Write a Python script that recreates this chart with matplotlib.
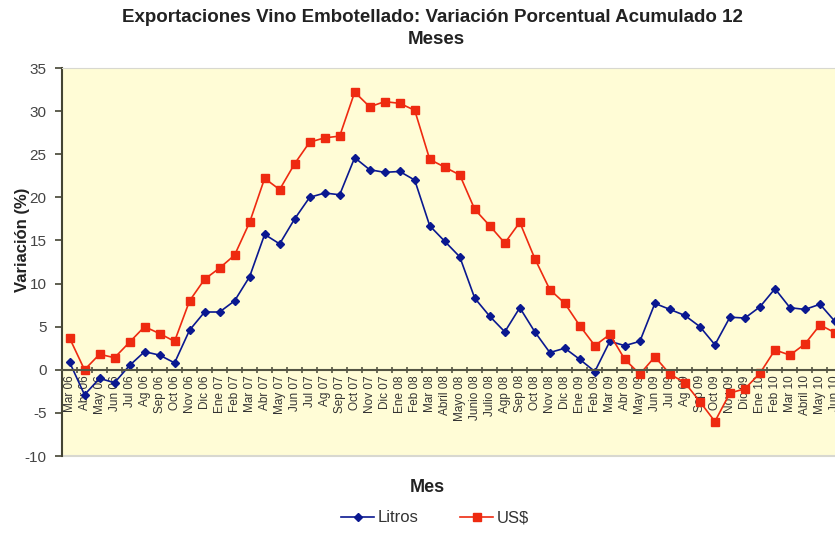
import matplotlib
matplotlib.use("Agg")
from matplotlib import pyplot as plt
from matplotlib.ticker import FixedLocator

plt.rcParams['font.family'] = ['Liberation Sans', 'DejaVu Sans']
plt.rcParams['axes.unicode_minus'] = False

meses = ['Mar 06', 'Abr 06', 'May 06', 'Jun 06', 'Jul 06', 'Ag 06', 'Sep 06', 'Oct 06',
         'Nov 06', 'Dic 06', 'Ene 07', 'Feb 07', 'Mar 07', 'Abr 07', 'May 07', 'Jun 07',
         'Jul 07', 'Ag 07', 'Sep 07', 'Oct 07', 'Nov 07', 'Dic 07', 'Ene 08', 'Feb 08',
         'Mar 08', 'Abril 08', 'Mayo 08', 'Junio 08', 'Julio 08', 'Agp 08', 'Sep 08', 'Oct 08',
         'Nov 08', 'Dic 08', 'Ene 09', 'Feb 09', 'Mar 09', 'Abr 09', 'May 09', 'Jun 09',
         'Jul 09', 'Ag 09', 'Sep 09', 'Oct 09', 'Nov 09', 'Dic 09', 'Ene 10', 'Feb 10',
         'Mar 10', 'Abril 10', 'May 10', 'Jun 10']

litros = [0.9, -2.9, -1.0, -1.5, 0.5, 2.1, 1.7, 0.8,
          4.6, 6.7, 6.7, 8.0, 10.8, 15.7, 14.6, 17.5,
          20.0, 20.5, 20.3, 24.6, 23.2, 22.9, 23.0, 22.0,
          16.7, 14.9, 13.1, 8.3, 6.2, 4.4, 7.2, 4.4,
          2.0, 2.5, 1.2, -0.2, 3.3, 2.8, 3.3, 7.7,
          7.0, 6.3, 5.0, 2.9, 6.1, 6.0, 7.3, 9.4,
          7.2, 7.0, 7.6, 5.6]

usd = [3.7, 0.0, 1.8, 1.4, 3.2, 5.0, 4.2, 3.3,
       8.0, 10.5, 11.8, 13.3, 17.1, 22.2, 20.9, 23.9,
       26.4, 26.9, 27.1, 32.2, 30.5, 31.1, 30.9, 30.1,
       24.4, 23.5, 22.6, 18.6, 16.7, 14.7, 17.1, 12.9,
       9.3, 7.7, 5.1, 2.8, 4.1, 1.2, -0.5, 1.5,
       -0.5, -1.5, -3.7, -6.0, -2.7, -2.2, -0.4, 2.3,
       1.7, 3.0, 5.2, 4.3]

W, H = 835, 534
fig = plt.figure(figsize=(W / 100, H / 100), dpi=100)
ax = fig.add_axes([62 / W, 1 - 456 / H, (842.5 - 62) / W, (456 - 68) / H])
ax.set_facecolor('#fffcd6')

x = list(range(len(meses)))
ax.plot(x, litros, color='#0a1890', lw=1.2, marker='D', ms=4.5, label='Litros')
ax.plot(x, usd, color='#ee2a10', lw=1.2, marker='s', ms=6, label='US$')

ax.set_xlim(-0.5, len(meses) - 0.5)
ax.set_ylim(-10, 35)
ax.set_yticks(range(-10, 36, 5))

ax.spines['bottom'].set_position(('data', 0))
ax.spines['bottom'].set_color('#555544')
ax.spines['bottom'].set_linewidth(1.5)
ax.spines['left'].set_color('#444433')
ax.spines['left'].set_linewidth(1.5)
ax.spines['right'].set_visible(False)
ax.spines['top'].set_color('#d8d8d0')
ax.axhline(-10, color='#d8d8d0', lw=1.5, clip_on=False)

ax.set_xticks(x)
ax.set_xticklabels(meses, rotation=90, fontsize=8.5, color='#333333')
ax.xaxis.set_minor_locator(FixedLocator([i - 0.5 for i in range(len(meses) + 1)]))
ax.tick_params(axis='x', which='major', length=0, pad=4)
ax.tick_params(axis='x', which='minor', length=5, direction='inout', color='#555544', width=1.2)
ax.tick_params(axis='y', length=5, width=1.2, color='#444433', labelsize=11,
               labelcolor='#444444', pad=6)

fig.text(432 / W, 1 - 17 / H, 'Exportaciones Vino Embotellado: Variación Porcentual Acumulado 12',
         ha='center', va='center', fontsize=13.5, fontweight='bold', color='#222222')
fig.text(436 / W, 1 - 40 / H, 'Meses', ha='center', va='center', fontsize=13.5,
         fontweight='bold', color='#222222')
fig.text(23 / W, 1 - 240 / H, 'Variación (%)', rotation=90, ha='center', va='center',
         fontsize=12, fontweight='bold', color='#222222')
fig.text(427 / W, 1 - 487 / H, 'Mes', ha='center', va='center', fontsize=13,
         fontweight='bold', color='#222222')

fig.legend(loc='center', bbox_to_anchor=(435 / W, 1 - 518 / H), ncol=2, frameon=False,
           fontsize=12, handlelength=2.0, handletextpad=0.2, columnspacing=2.5,
           labelcolor='#333333')

fig.savefig('out.png', dpi=100)
